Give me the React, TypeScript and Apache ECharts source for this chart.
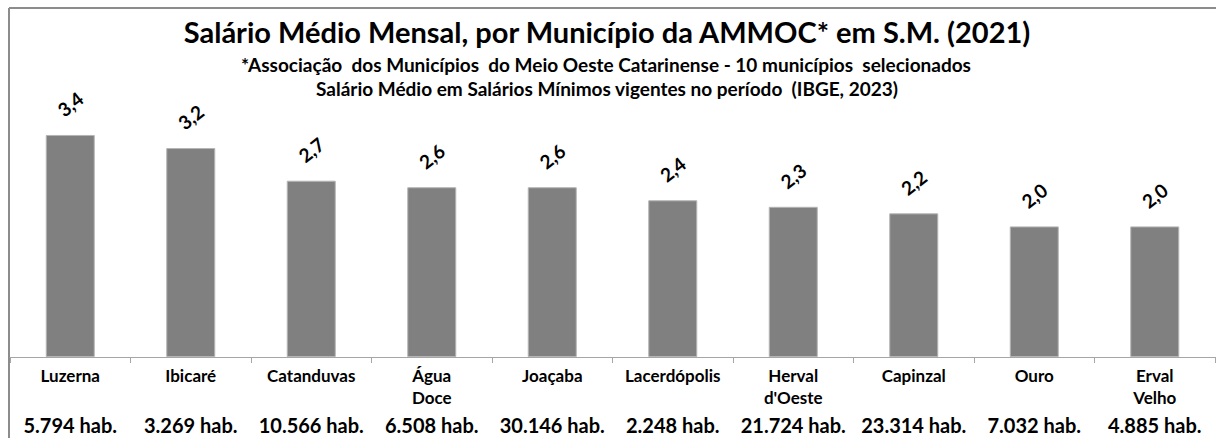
import React, { useEffect, useRef } from "react";
import * as echarts from "echarts";

const nameLine1 = ["Luzerna", "Ibicaré", "Catanduvas", "Água", "Joaçaba", "Lacerdópolis", "Herval", "Capinzal", "Ouro", "Erval"];
const nameLine2 = ["", "", "", "Doce", "", "", "d'Oeste", "", "", "Velho"];
const populations = ["5.794 hab.", "3.269 hab.", "10.566 hab.", "6.508 hab.", "30.146 hab.", "2.248 hab.", "21.724 hab.", "23.314 hab.", "7.032 hab.", "4.885 hab."];
const salarios = [3.4, 3.2, 2.7, 2.6, 2.6, 2.4, 2.3, 2.2, 2.0, 2.0];

const titleText = "Salário Médio Mensal, por Município da AMMOC* em S.M. (2021)";
const subtitle1 = "*Associação  dos Municípios  do Meio Oeste Catarinense - 10 municípios  selecionados";
const subtitle2 = "Salário Médio em Salários Mínimos vigentes no período  (IBGE, 2023)";

const FONT = "Lato, 'Open Sans', sans-serif";

export default function App() {
  const ref = useRef<HTMLDivElement>(null);
  useEffect(() => {
    if (!ref.current) return;
    const chart = echarts.init(ref.current, undefined, { renderer: "svg" });
    const categories = nameLine1.map((n, i) => (nameLine2[i] ? n + " " + nameLine2[i] : n));
    chart.setOption({
      animation: false,
      backgroundColor: "#ffffff",
      graphic: [
        { type: "line", shape: { x1: 9, y1: 8, x2: 1216, y2: 8 }, style: { stroke: "#8c8c8c", lineWidth: 2 } },
        { type: "line", shape: { x1: 9, y1: 8, x2: 9, y2: 438 }, style: { stroke: "#8c8c8c", lineWidth: 2 } },
        {
          type: "text", x: 607, y: 31,
          style: { text: titleText, align: "center", verticalAlign: "middle", fill: "#000", font: `bold 29px ${FONT}` },
        },
        {
          type: "text", x: 606, y: 64,
          style: { text: subtitle1, align: "center", verticalAlign: "middle", fill: "#000", font: `bold 19px ${FONT}` },
        },
        {
          type: "text", x: 607, y: 88,
          style: { text: subtitle2, align: "center", verticalAlign: "middle", fill: "#000", font: `bold 19px ${FONT}` },
        },
      ],
      grid: { left: 10, right: 1, top: 95.8, bottom: 81, containLabel: false },
      xAxis: {
        type: "category",
        data: categories,
        boundaryGap: true,
        axisLine: { show: true, lineStyle: { color: "#a6a6a6", width: 1 } },
        axisTick: { show: true, length: 6, lineStyle: { color: "#a6a6a6" } },
        axisLabel: {
          interval: 0,
          margin: 7,
          formatter: (_v: string, i: number) =>
            `{a|${nameLine1[i]}}\n{a|${nameLine2[i] || " "}}\n{b|${populations[i]}}`,
          rich: {
            a: { fontFamily: FONT, fontWeight: "bold", fontSize: 17, color: "#000", lineHeight: 22 },
            b: { fontFamily: FONT, fontWeight: "bold", fontSize: 20, color: "#000", lineHeight: 34 },
          },
        },
      },
      yAxis: { type: "value", min: 0, max: 4, show: false, splitLine: { show: false } },
      series: [
        {
          type: "bar",
          data: salarios,
          barWidth: 49,
          itemStyle: { color: "#808080", borderColor: "#b5b5b5", borderWidth: 1 },
          label: {
            show: true,
            position: "top",
            distance: 31,
            rotate: 38,
            align: "center",
            verticalAlign: "middle",
            formatter: (p: any) => p.value.toFixed(1).replace(".", ","),
            fontFamily: FONT,
            fontWeight: "bold",
            fontSize: 19,
            color: "#000",
          },
        },
      ],
    });
    return () => chart.dispose();
  }, []);
  return <div ref={ref} style={{ position: "absolute", left: 0, top: 0, width: 1216, height: 438 }} />;
}
